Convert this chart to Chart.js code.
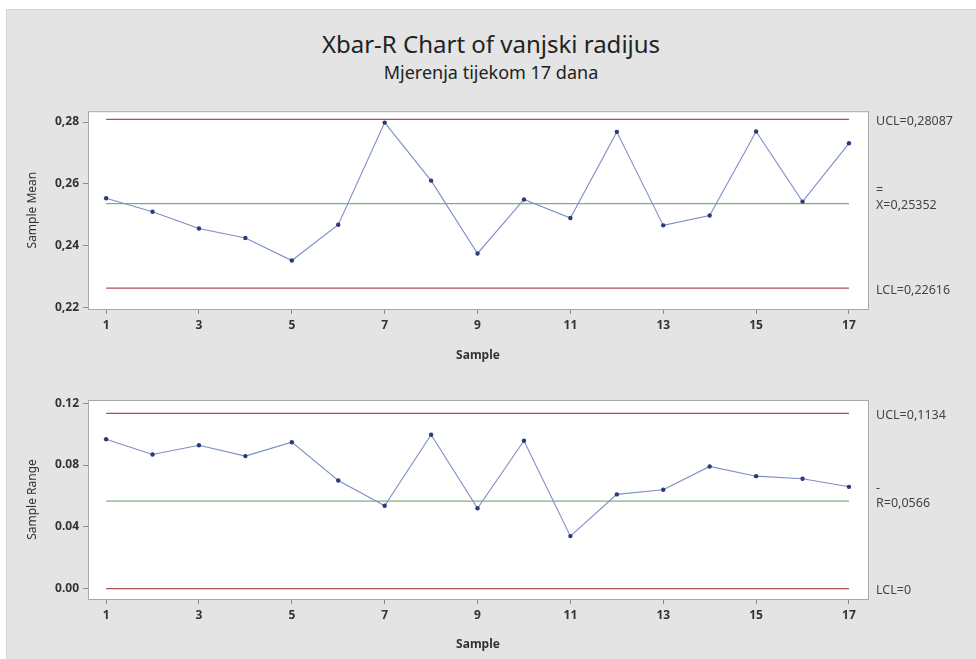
<!DOCTYPE html>
<html>
<head>
<meta charset="utf-8">
<title>Xbar-R Chart of vanjski radijus</title>
<script src="https://cdn.jsdelivr.net/npm/chart.js@4.4.0/dist/chart.umd.min.js"></script>
<style>
    body { margin: 0; width: 976px; height: 659px; overflow: hidden; background: #fff; font-family: "Noto Sans", sans-serif; }
    #panel { position: absolute; left: 6px; top: 9px; right: 0; bottom: 0; background: #e4e4e4; border-top: 1px solid #d4d4d4; border-left: 1px solid #d4d4d4; }
    .heading { position: absolute; left: 6px; right: 0; text-align: center; color: #222; white-space: nowrap; }
    #title { top: 27px; font-size: 24px; }
    #subtitle { top: 60px; font-size: 18px; }
    .box { position: absolute; left: 0; width: 976px; }
    #meanBox { top: 100px; height: 270px; }
    #rangeBox { top: 370px; height: 289px; }
</style>
</head>
<body>
<div id="panel"></div>
<div id="title" class="heading">Xbar-R Chart of vanjski radijus</div>
<div id="subtitle" class="heading">Mjerenja tijekom 17 dana</div>
<div id="meanBox" class="box"><canvas id="meanChart"></canvas></div>
<div id="rangeBox" class="box"><canvas id="rangeChart"></canvas></div>

<script>
// sample numbers (days)
const samples = [1, 2, 3, 4, 5, 6, 7, 8, 9, 10, 11, 12, 13, 14, 15, 16, 17];

// sample means
const sampleMeans = [0.2553, 0.2509, 0.2455, 0.2424, 0.2351, 0.2467, 0.2798, 0.2610, 0.2374,
    0.2549, 0.2489, 0.2768, 0.2465, 0.2497, 0.2769, 0.2542, 0.2731];

// sample ranges
const sampleRanges = [0.0967, 0.0868, 0.0928, 0.0858, 0.0948, 0.0700, 0.0537, 0.0996, 0.0520,
    0.0957, 0.0340, 0.0610, 0.0640, 0.0791, 0.0728, 0.0711, 0.0659];

// control limits: UCL, centre line, LCL
const meanLimits = [0.28087, 0.25352, 0.22616];
const rangeLimits = [0.1134, 0.0566, 0];

// limit labels shown right of the plots
const meanLimitLabels = [["UCL=0,28087"], ["=", "X=0,25352"], ["LCL=0,22616"]];
const rangeLimitLabels = [["UCL=0,1134"], ["-", "R=0,0566"], ["LCL=0"]];

// tick labels
const sampleTicks = [1, 3, 5, 7, 9, 11, 13, 15, 17];
const meanTicks = [0.22, 0.24, 0.26, 0.28];
const rangeTicks = [0.00, 0.04, 0.08, 0.12];

const limitColors = ["#a8505c", "#7ab27a", "#a8505c"];

// white plot background and grey frame around chart area
const framePlugin = {
    id: "frame",
    beforeDraw(chart) {
        const { ctx, chartArea: a } = chart;
        ctx.save();
        ctx.fillStyle = "#ffffff";
        ctx.fillRect(a.left, a.top, a.right - a.left, a.bottom - a.top);
        ctx.restore();
    },
    afterDraw(chart) {
        const { ctx, chartArea: a } = chart;
        ctx.save();
        ctx.strokeStyle = "#a9a9a9";
        ctx.lineWidth = 1;
        ctx.strokeRect(a.left + 0.5, a.top + 0.5, a.right - a.left, a.bottom - a.top);
        ctx.restore();
    }
};

// UCL / centre / LCL text to the right of the plot
const limitLabelPlugin = {
    id: "limitLabels",
    afterDraw(chart, args, opts) {
        const { ctx, chartArea } = chart;
        const yScale = chart.scales.y;
        ctx.save();
        ctx.font = "12.5px 'Noto Sans', sans-serif";
        ctx.fillStyle = "#444";
        ctx.textAlign = "left";
        ctx.textBaseline = "middle";
        opts.labels.forEach((lines, i) => {
            const y = yScale.getPixelForValue(opts.values[i]) + 2;
            const x = chartArea.right + 8;
            if (lines.length === 2) {
                ctx.fillText(lines[0], x, y - 15);
                ctx.fillText(lines[1], x, y);
            } else {
                ctx.fillText(lines[0], x, y);
            }
        });
        ctx.restore();
    }
};

function makeChart(canvasId, values, limits, limitLabels, yTicks, yFormat, yTitle, yMin, yMax, padding, axisHeight, xTitlePad) {
    const ctx = document.getElementById(canvasId).getContext("2d");

    const datasets = limits.map((v, i) => ({
        data: [{ x: samples[0], y: v }, { x: samples[samples.length - 1], y: v }],
        borderColor: limitColors[i],
        borderWidth: 1.3,
        pointRadius: 0,
        order: 2
    }));

    datasets.push({
        data: samples.map((s, i) => ({ x: s, y: values[i] })),
        borderColor: "#7d8ec6",
        borderWidth: 1.1,
        pointRadius: 2.2,
        pointBackgroundColor: "#2c3a78",
        pointBorderColor: "#2c3a78",
        pointBorderWidth: 0,
        order: 1
    });

    return new Chart(ctx, {
        type: "line",
        data: { datasets: datasets },
        options: {
            responsive: true,
            maintainAspectRatio: false,
            animation: false,
            layout: { padding: padding },
            plugins: {
                legend: { display: false },
                tooltip: { enabled: false },
                limitLabels: { values: limits, labels: limitLabels }
            },
            scales: {
                x: {
                    type: "linear",
                    min: 0.61,
                    max: 17.41,
                    afterBuildTicks: scale => { scale.ticks = sampleTicks.map(v => ({ value: v })); },
                    afterFit: scale => { scale.height = axisHeight; },
                    grid: { drawOnChartArea: false, tickLength: 5, color: "#8a8a8a" },
                    border: { display: false },
                    ticks: {
                        padding: 4,
                        color: "#333",
                        font: { family: "Noto Sans", size: 12, weight: "bold" },
                        maxRotation: 0
                    },
                    title: {
                        display: true,
                        text: "Sample",
                        color: "#333",
                        font: { family: "Noto Sans", size: 12, weight: "bold" },
                        padding: { top: 0, bottom: xTitlePad }
                    }
                },
                y: {
                    min: yMin,
                    max: yMax,
                    afterBuildTicks: scale => { scale.ticks = yTicks.map(v => ({ value: v })); },
                    afterFit: scale => { scale.width = 88; },
                    grid: { drawOnChartArea: false, tickLength: 5, color: "#8a8a8a" },
                    border: { display: false },
                    ticks: {
                        padding: 4,
                        color: "#333",
                        font: { family: "Noto Sans", size: 12, weight: "bold" },
                        callback: v => yFormat(v)
                    },
                    title: {
                        display: true,
                        text: yTitle,
                        color: "#333",
                        font: { family: "Noto Sans", size: 12 },
                        padding: { top: 25, bottom: 0 }
                    }
                }
            }
        },
        plugins: [framePlugin, limitLabelPlugin]
    });
}

makeChart("meanChart", sampleMeans, meanLimits, meanLimitLabels, meanTicks,
    v => v.toFixed(2).replace(".", ","), "Sample Mean",
    0.2194, 0.2835, { top: 10, right: 108, bottom: 1, left: 0 }, 60, 6);

makeChart("rangeChart", sampleRanges, rangeLimits, rangeLimitLabels, rangeTicks,
    v => v.toFixed(2), "Sample Range",
    -0.0067, 0.1221, { top: 30, right: 108, bottom: 2, left: 0 }, 58, 5);
</script>
</body>
</html>
